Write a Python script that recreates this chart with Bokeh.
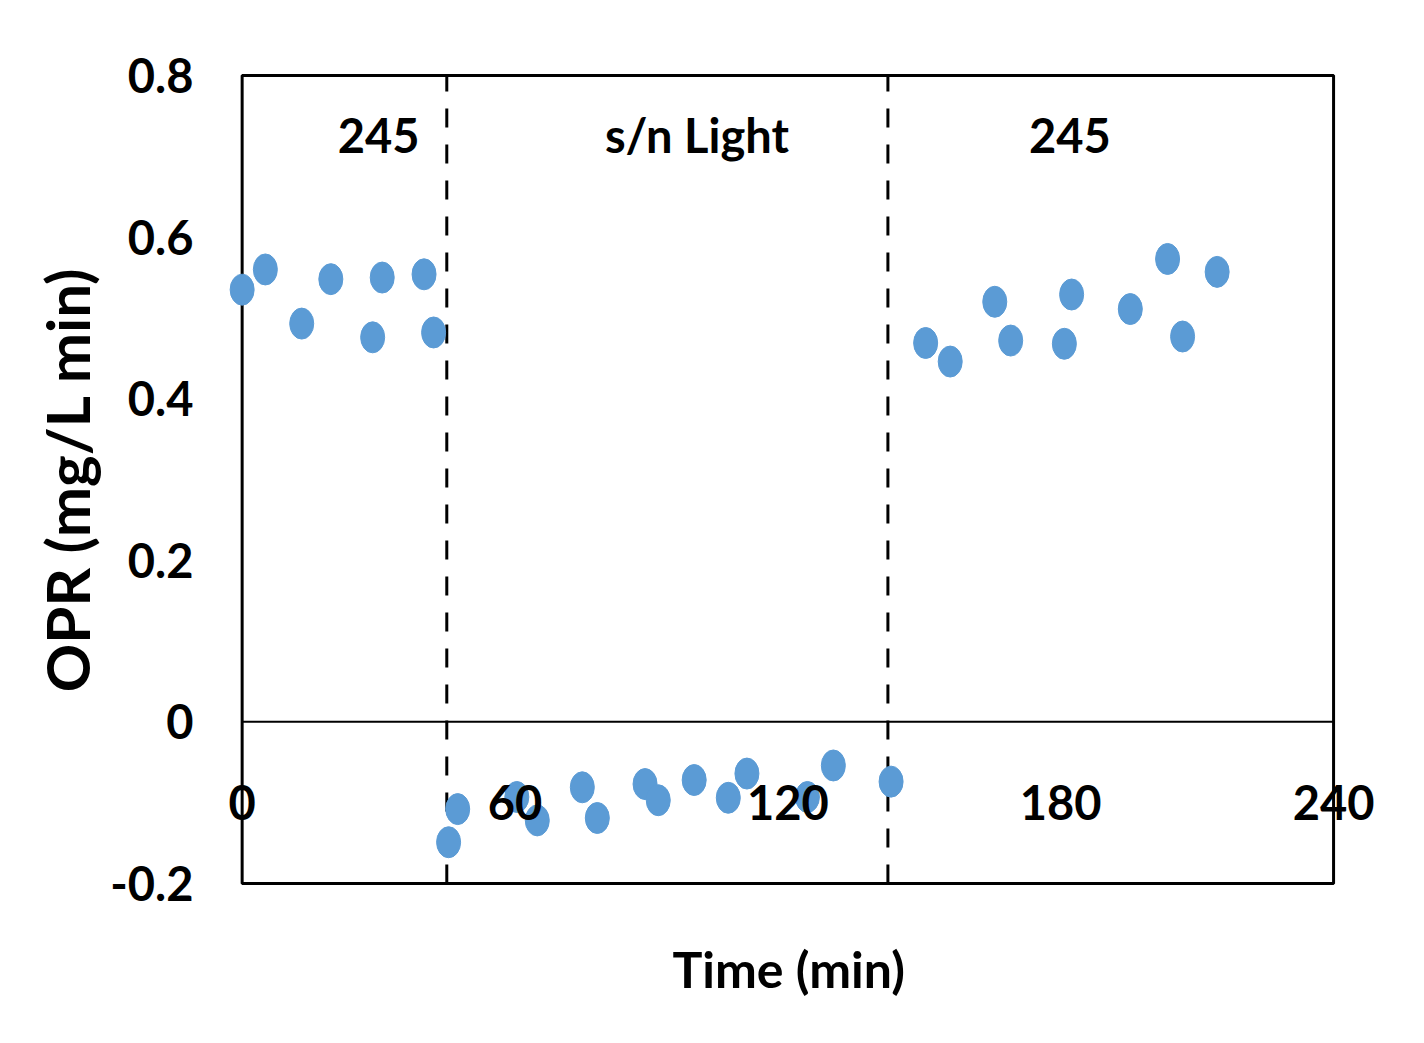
from bokeh.plotting import figure
from bokeh.models import FixedTicker, Label, Title
from bokeh.embed import file_html
from bokeh.resources import INLINE

# ---- data ----
time_min = [0, 5.1, 13.1, 19.5, 28.7, 30.8, 40.0, 42.1,
            45.4, 47.4, 60.4, 64.9, 74.8, 78.1, 88.6, 91.5, 99.4, 106.9, 111.0, 124.3, 130.0, 142.7,
            150.3, 155.7, 165.5, 169.0, 180.8, 182.4, 195.3, 203.5, 206.8, 214.4]
opr = [0.535, 0.560, 0.493, 0.548, 0.476, 0.550, 0.554, 0.482,
       -0.149, -0.108, -0.093, -0.122, -0.081, -0.119, -0.077, -0.097, -0.072, -0.094, -0.064, -0.093, -0.054, -0.074,
       0.469, 0.446, 0.520, 0.472, 0.468, 0.529, 0.511, 0.573, 0.477, 0.557]
phase_boundaries = [45, 142]
phase_labels = ["245", "s/n Light", "245"]
phase_label_x = [30, 100, 182]
x_min, x_max = 0, 240
y_min, y_max = -0.2, 0.8
x_ticks = [0, 60, 120, 180, 240]
x_tick_labels = ["0", "60", "120", "180", "240"]
y_ticks = [-0.2, 0, 0.2, 0.4, 0.6, 0.8]
y_tick_labels = ["-0.2", "0", "0.2", "0.4", "0.6", "0.8"]

FONT = "Lato"
FS = "47px"

# ranges padded so markers and tick labels on the box edge are not clipped
p = figure(width=1424, height=1043, x_range=(x_min - 3, x_max + 9), y_range=(y_min - 0.01, y_max + 0.01),
           output_backend="svg", toolbar_location=None,
           min_border_left=228, min_border_right=50, min_border_top=67, min_border_bottom=152)
p.xgrid.visible = False
p.ygrid.visible = False
p.outline_line_color = None
p.background_fill_color = "white"
p.border_fill_color = "white"

# plot box
p.quad(left=x_min, right=x_max, bottom=y_min, top=y_max, fill_color=None,
       line_color="black", line_width=3)
# zero line
p.segment(x0=x_min, x1=x_max, y0=0, y1=0, line_color="black", line_width=2)
# phase boundaries (dashed)
p.segment(x0=phase_boundaries, x1=phase_boundaries, y0=y_min, y1=y_max,
          line_color="black", line_width=3, line_dash="19 17")

# data points
p.ellipse(x=time_min, y=opr, width=24, height=31, width_units="screen", height_units="screen",
          fill_color="#5B9BD5", line_color="#5B9BD5")

# y axis
ya = p.yaxis[0]
ya.ticker = FixedTicker(ticks=y_ticks)
ya.major_label_overrides = {t: l for t, l in zip(y_ticks, y_tick_labels)}
ya.major_tick_line_color = None
ya.minor_tick_line_color = None
ya.major_tick_in = 0
ya.major_tick_out = 0
ya.axis_line_color = None
ya.major_label_standoff = 35
ya.major_label_text_font = FONT
ya.major_label_text_font_style = "bold"
ya.major_label_text_font_size = FS
ya.major_label_text_color = "black"
ya.axis_label = "OPR (mg/L min)"
ya.axis_label_text_font = FONT
ya.axis_label_text_font_style = "bold"
ya.axis_label_text_font_size = "60px"
ya.axis_label_text_color = "black"
ya.axis_label_standoff = 4

# x axis: tick labels drawn just below the zero line
p.xaxis.visible = False
for tx, tl in zip(x_ticks, x_tick_labels):
    p.add_layout(Label(x=tx, y=0, text=tl, y_offset=-63, text_align="center", text_baseline="top",
                       text_font=FONT, text_font_style="bold", text_font_size=FS,
                       text_color="black"))

# x axis title
p.add_layout(Title(text="Time (min)", align="left", offset=444, text_font=FONT, text_font_style="bold",
                   text_font_size="50px", text_color="black", standoff=90), "below")

# phase labels
for lx, lt in zip(phase_label_x, phase_labels):
    p.add_layout(Label(x=lx, y=0.726, text=lt, text_align="center", text_baseline="middle",
                       text_font=FONT, text_font_style="bold", text_font_size=FS,
                       text_color="black"))

open("out.html", "w").write(file_html(p, INLINE))
